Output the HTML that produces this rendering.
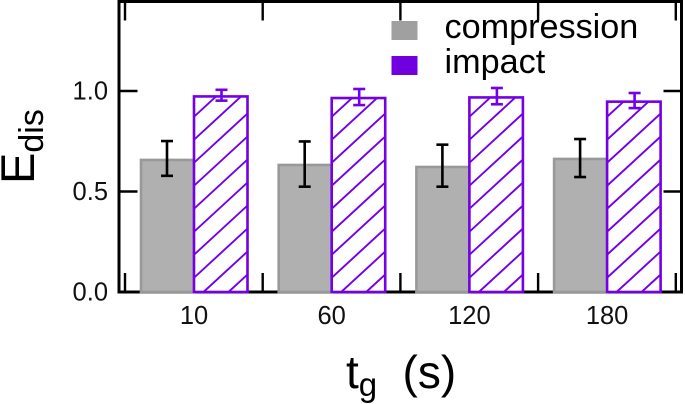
<!DOCTYPE html>
<html>
<head>
<meta charset="utf-8">
<title>Edis chart</title>
<style>
html,body{margin:0;padding:0;background:#fff;}
svg{display:block;font-family:"Liberation Sans",sans-serif;}
</style>
</head>
<body>
<svg id="chart" width="685" height="404" viewBox="0 0 685 404" xmlns="http://www.w3.org/2000/svg">
<defs id="defs"></defs>
<rect x="0" y="0" width="685" height="404" fill="#fff"/>
<rect x="119" y="1.5" width="562.5" height="290.5" fill="none" stroke="#000" stroke-width="3"/>
<g id="ticks"></g>
<g id="bars"></g>
<g id="labels" font-size="25.5" fill="#111"></g>
<text transform="translate(34 184) rotate(-90)" font-size="47" fill="#000">E<tspan dy="9" font-size="34">dis</tspan></text>
<text x="346" y="388" font-size="46" fill="#000">t<tspan dy="8" font-size="33">g</tspan><tspan dy="-8" x="402.5">(s)</tspan></text>
<g>
<rect x="391.5" y="21" width="26" height="19" fill="#a0a0a0"/>
<rect x="391.5" y="56" width="26" height="19" fill="#7000e0"/>
<text x="444.5" y="38" font-size="34.2" fill="#000">compression</text>
<text x="444.5" y="73" font-size="34.2" fill="#000">impact</text>
</g>
</svg>
<script>
const categories = ["10", "60", "120", "180"];
const compressionValues = [0.657, 0.632, 0.622, 0.662];
const compressionUpper = [0.751, 0.749, 0.733, 0.761];
const compressionLower = [0.578, 0.524, 0.524, 0.572];
const impactValues = [0.973, 0.965, 0.968, 0.947];
const impactUpper = [1.006, 1.010, 1.015, 0.990];
const impactLower = [0.952, 0.930, 0.934, 0.915];
const yTickValues = [0, 0.5, 1.0];
const yTickLabels = ["0.0", "0.5", "1.0"];

const NS = "http://www.w3.org/2000/svg";
const GREY_EDGE = "#999999";
const GREY_FILL = "#b0b0b0";
const PURPLE = "#7300e6";

function yScale(v) { return 292 - v * 201; }
function groupCenter(i) { return 194 + i * 137.7; }
function make(tag, parent, attrs) {
  const el = document.createElementNS(NS, tag);
  for (const k in attrs) el.setAttribute(k, attrs[k]);
  parent.appendChild(el);
  return el;
}
function errorBar(parent, cx, hi, lo, color, capHalf) {
  const yh = yScale(hi), yl = yScale(lo);
  const stem = make("line", parent, {x1: cx, x2: cx, y1: yh, y2: yl, stroke: color, "stroke-width": 2.6});
  
  
  const capTop = make("line", parent, {x1: cx - capHalf, x2: cx + capHalf, y1: yh, y2: yh, stroke: color, "stroke-width": 2.6});
  
  
  const capBottom = make("line", parent, {x1: cx - capHalf, x2: cx + capHalf, y1: yl, y2: yl, stroke: color, "stroke-width": 2.6});
  
  
}
/* diagonal hatch lines anchored at the bar's bottom-left corner */
function hatchPath(height) {
  const rise = height + 10;
  const run = rise * 25 / 23;
  const first = 9.5 - 25 * Math.ceil(run / 25);
  let d = "";
  for (let k = first; k < 53.5; k += 25) {
    d += "M" + k + " 0L" + (k + run) + " " + (-rise);
  }
  return d;
}

const ticks = document.getElementById("ticks");
const bars = document.getElementById("bars");
const labels = document.getElementById("labels");
const defs = document.getElementById("defs");

for (let i = 0; i <= categories.length; i++) {
  const tx = groupCenter(i) - 69;
  const bottomTick = make("line", ticks, {x1: tx, x2: tx, y1: 273, y2: 292, stroke: "#000", "stroke-width": 2.4});
  
  
  const topTick = make("line", ticks, {x1: tx, x2: tx, y1: 1.5, y2: 20.5, stroke: "#000", "stroke-width": 2.4});
  
  
}

yTickValues.forEach(function (v, i) {
  const ty = yScale(v);
  const leftTick = make("line", ticks, {x1: 119, x2: 137.5, y1: ty, y2: ty, stroke: "#000", "stroke-width": 2.4});
  
  
  const rightTick = make("line", ticks, {x1: 663.5, x2: 682, y1: ty, y2: ty, stroke: "#000", "stroke-width": 2.4});
  
  
  const label = make("text", labels, {x: 108, y: ty + 8.5, "text-anchor": "end"});
  
  
  label.textContent = yTickLabels[i];
});

categories.forEach(function (cat, i) {
  const c = groupCenter(i);
  const compressionTop = yScale(compressionValues[i]);
  const compressionBar = make("rect", bars, {
    x: c - 53, y: compressionTop, width: 53, height: 292 - compressionTop,
    fill: GREY_FILL, stroke: GREY_EDGE, "stroke-width": 2.6
  });
  
  

  const impactTop = yScale(impactValues[i]);
  const barHeight = 292 - impactTop;
  const impactGroup = make("g", bars, {transform: "translate(" + c + " 292)"});
  
  

  const clip = make("clipPath", defs, {id: "impact-clip-" + i});
  make("rect", clip, {x: 0, y: -barHeight, width: 53.5, height: barHeight});

  const impactFill = make("rect", impactGroup, {x: 0, y: -barHeight, width: 53.5, height: barHeight, fill: "#fff"});
  
  
  const hatch = make("path", impactGroup, {d: hatchPath(barHeight), fill: "none", stroke: PURPLE, "stroke-width": 1.9, "clip-path": "url(#impact-clip-" + i + ")"});
  
  
  const impactBar = make("rect", impactGroup, {x: 0, y: -barHeight, width: 53.5, height: barHeight, fill: "none", stroke: PURPLE, "stroke-width": 2.6});
  
  

  errorBar(bars, c - 27, compressionUpper[i], compressionLower[i], "#000", 6);
  errorBar(bars, c + 27.5, impactUpper[i], impactLower[i], PURPLE, 6);

  const xLabel = make("text", labels, {x: c, y: 324, "text-anchor": "middle"});
  
  
  xLabel.textContent = cat;
});
</script>
</body>
</html>
